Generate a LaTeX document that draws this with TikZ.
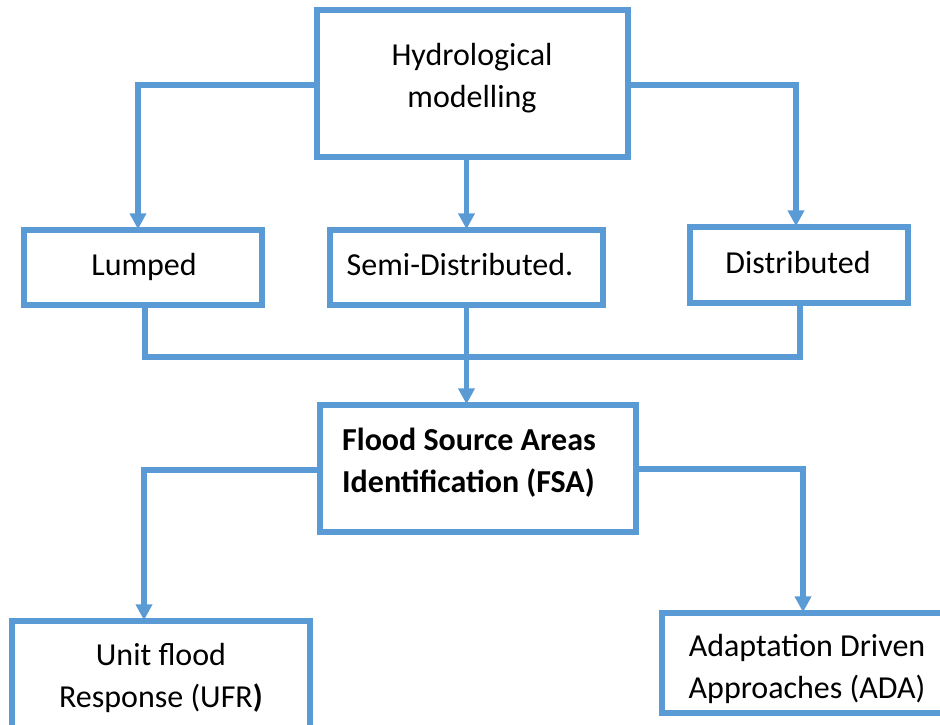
\documentclass[tikz,border=0pt]{standalone}
\usepackage{fontspec}
\setmainfont{Carlito}
\usetikzlibrary{arrows.meta}
\definecolor{flowblue}{HTML}{5B9BD5}
\begin{document}
\begin{tikzpicture}[x=1pt,y=-1pt,
  box/.style={draw=flowblue, line width=5.5pt, rectangle, inner sep=0pt},
  txt/.style={inner sep=0pt, align=center, font=\fontsize{32}{42}\selectfont},
  link/.style={draw=flowblue, line width=5.5pt},
  arr/.style={link, -{Triangle[width=16pt,length=16pt]}, shorten >=-2pt}]
\useasboundingbox (0,0) rectangle (940,724);
\clip (0,0) rectangle (940,724);

% first level
\node[box, minimum width=311pt, minimum height=147pt] (top) at (472.5,83.5) {};
\node[txt] (topT) at (472,78) {Hydrological\\modelling};

% model types
\node[box, minimum width=238pt, minimum height=75pt] (lumped) at (143,267.5) {};
\node[txt] (lumpedT) at (144,267) {Lumped};
\node[box, minimum width=273pt, minimum height=75pt] (semi) at (466.5,267.5) {};
\node[txt] (semiT) at (460,265) {Semi-Distributed.};
\node[box, minimum width=218pt, minimum height=76pt] (dist) at (799,265) {};
\node[txt] (distT) at (798,262) {Distributed};

% identification step
\node[box, minimum width=316pt, minimum height=127pt] (fsa) at (478,468.5) {};
\node[txt, align=left, anchor=west, font=\fontsize{32}{42}\selectfont\bfseries]
  (fsaT) at (342,463) {Flood Source Areas\\Identification (FSA)};

% outcomes
\node[box, minimum width=298pt, minimum height=140pt] (ufr) at (161,691) {};
\node[txt] (ufrT) at (161,678) {Unit flood\\Response (UFR\textbf{)}};
\node[box, minimum width=298pt, minimum height=100pt] (ada) at (811,663) {};
\node[txt] (adaT) at (807,669) {Adaptation Driven\\Approaches (ADA)};

% connectors from the modelling box
\draw[arr] (top.west |- 0,85) -| ([xshift=-5pt]lumped.north);
\draw[arr] (top.east |- 0,85) -| ([xshift=-3pt]dist.north);
\draw[arr] (top.south -| semi.north) -- (semi.north);

% joining the three model types
\coordinate (join) at (465,357);
\draw[link] ([xshift=2pt]lumped.south) |- (join) -| ([xshift=1pt]dist.south);
\draw[arr] (semi.south) -- (fsa.north -| semi.south);

% branches to the outcomes
\draw[arr] (fsa.west |- 0,470) -| ([xshift=-17pt]ufr.north);
\draw[arr] (fsa.east |- 0,469) -| ([xshift=-8pt]ada.north);
\end{tikzpicture}
\end{document}
